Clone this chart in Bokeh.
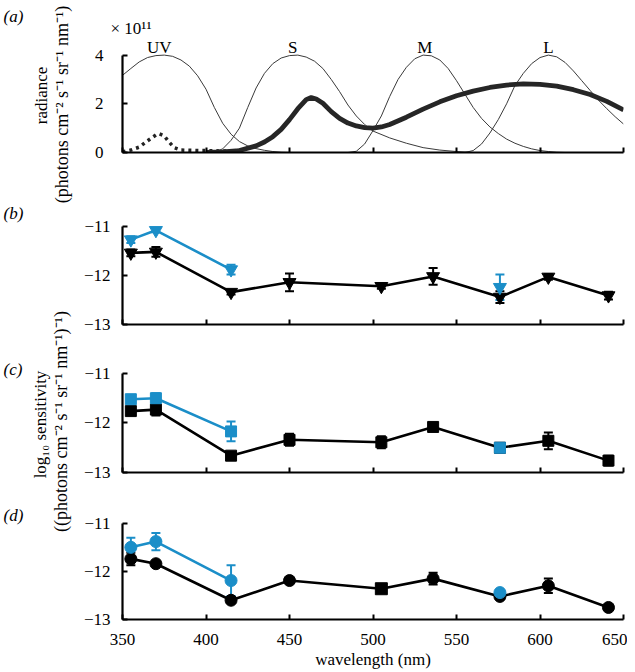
import math
from bokeh.plotting import figure
from bokeh.models import Range1d, FixedTicker, Whisker, TeeHead, ColumnDataSource
from bokeh.layouts import column, row
from bokeh.embed import file_html
from bokeh.resources import INLINE
from bokeh.core.properties import value

# ---------------- data ----------------
# panel (a): photoreceptor sensitivity curves (normalised to 4) and radiance spectra (x 1e11)
uv_wl = [350, 355, 360, 365, 370, 375, 380, 385, 390, 395, 400, 405, 410, 415, 420, 425, 430, 435, 440, 445, 450]
uv_val = [3.17, 3.45, 3.72, 3.9, 3.98, 4.0, 3.95, 3.8, 3.55, 3.15, 2.6, 1.85, 1.2, 0.75, 0.45, 0.27, 0.16, 0.09, 0.04, 0.01, 0.0]

s_wl = [400, 405, 410, 415, 420, 425, 430, 435, 440, 445, 450, 455, 460, 465, 470, 475, 480, 485, 490, 495, 500, 510, 520, 530, 540, 550, 560]
s_val = [0.0, 0.02, 0.15, 0.5, 1.0, 1.85, 2.65, 3.25, 3.65, 3.88, 3.98, 4.0, 3.92, 3.75, 3.45, 3.0, 2.5, 1.95, 1.5, 1.15, 0.88, 0.6, 0.38, 0.2, 0.1, 0.04, 0.0]

m_wl = [485, 490, 495, 500, 505, 510, 515, 520, 525, 530, 535, 540, 545, 550, 555, 560, 565, 570, 575, 580, 585, 590, 595, 600, 605, 610, 615]
m_val = [0.0, 0.05, 0.35, 0.9, 1.5, 2.3, 3.0, 3.5, 3.85, 4.0, 3.97, 3.8, 3.45, 2.95, 2.4, 1.85, 1.4, 1.05, 0.78, 0.55, 0.38, 0.25, 0.15, 0.08, 0.04, 0.01, 0.0]

l_wl = [555, 560, 565, 570, 575, 580, 585, 590, 595, 600, 605, 610, 615, 620, 625, 630, 635, 640, 645, 650]
l_val = [0.0, 0.08, 0.35, 0.8, 1.35, 2.0, 2.75, 3.25, 3.65, 3.9, 4.0, 3.93, 3.7, 3.35, 2.95, 2.55, 2.15, 1.8, 1.47, 1.17]

rad_wl = [400, 410, 420, 430, 435, 440, 445, 450, 455, 460, 463, 466, 470, 475, 480, 485, 490, 495, 500, 505, 510, 520, 530, 540, 550, 560, 570, 580, 590, 600, 610, 620, 630, 640, 650]
rad_val = [0.0, 0.02, 0.08, 0.27, 0.43, 0.65, 0.95, 1.35, 1.8, 2.17, 2.26, 2.2, 2.02, 1.68, 1.4, 1.21, 1.09, 1.02, 1.0, 1.05, 1.15, 1.45, 1.78, 2.08, 2.33, 2.52, 2.67, 2.77, 2.82, 2.8, 2.73, 2.58, 2.38, 2.1, 1.75]

uvrad_wl = [350, 355, 360, 365, 370, 372, 375, 378, 381, 385, 390, 400, 410, 420]
uvrad_val = [0.03, 0.1, 0.22, 0.48, 0.72, 0.77, 0.68, 0.42, 0.2, 0.1, 0.09, 0.08, 0.06, 0.08]

peak_names = ["UV", "S", "M", "L"]
peak_wl = [372, 452, 531, 605]
peak_val = [4, 4, 4, 4]

# panels (b)-(d): log10 sensitivity
wavelengths = [355, 370, 415, 450, 505, 536, 576, 605, 641]
blue_wl = [355, 370, 415, 576]

b_black = [-11.54, -11.52, -12.34, -12.14, -12.22, -12.02, -12.44, -12.03, -12.41]
b_black_err = [0.07, 0.1, 0.05, 0.18, 0.05, 0.17, 0.12, 0.06, 0.08]
b_blue = [-11.27, -11.08, -11.88, -12.24]
b_blue_err = [0.07, 0.04, 0.1, 0.26]

c_black = [-11.76, -11.73, -12.66, -12.34, -12.39, -12.08, -12.5, -12.36, -12.76]
c_black_err = [0.06, 0.12, 0.04, 0.12, 0.12, 0.05, 0.05, 0.17, 0.1]
c_blue = [-11.52, -11.5, -12.17, -12.5]
c_blue_err = [0.08, 0.1, 0.2, 0.04]

d_black = [-11.74, -11.84, -12.6, -12.19, -12.36, -12.15, -12.52, -12.3, -12.75]
d_black_err = [0.13, 0.04, 0.04, 0.03, 0.06, 0.12, 0.05, 0.15, 0.04]
d_blue = [-11.5, -11.38, -12.19, -12.44]
d_blue_err = [0.2, 0.18, 0.32, 0.04]
d_markers = ["circle", "circle", "circle", "circle", "square", "circle", "circle", "circle", "circle"]

x_ticks = [350, 400, 450, 500, 550, 600, 650]
a_yticks = [0, 2, 4]
s_yticks = [-13, -12, -11]
s_ytick_labels = {-13: "\u221213", -12: "\u221212", -11: "\u221211"}

# side texts (rotated axis titles and panel letters), positioned in page pixels
side_texts = ["radiance",
              "(photons cm\u207b\u00b2 s\u207b\u00b9 sr\u207b\u00b9 nm\u207b\u00b9)",
              "log\u2081\u2080 sensitivity",
              "((photons cm\u207b\u00b2 s\u207b\u00b9 sr\u207b\u00b9 nm\u207b\u00b9)\u207b\u00b9)"]
side_x = [41, 61, 40, 60]
side_y = [95, 104, 424, 421]
side_size = ["17px", "18px", "17px", "18px"]
letters = ["(a)", "(b)", "(c)", "(d)"]
letter_x = [3, 3, 3, 3]
letter_y = [16, 213, 369, 515]

# ---------------- style ----------------
FONT = "Liberation Serif"
BLUE = "#1b8ec8"
BLACK = "#000000"
FS = "17px"
SIDE_W = 75
W = 552
LEFT = 47
RIGHT = 4


def make_fig(height, top, bottom, yr, xlabels):
    p = figure(width=W, height=height, x_range=Range1d(350, 650), y_range=Range1d(*yr),
               output_backend="svg", toolbar_location=None,
               min_border_left=LEFT, min_border_right=RIGHT,
               min_border_top=top, min_border_bottom=bottom)
    p.outline_line_color = None
    p.xgrid.visible = False
    p.ygrid.visible = False
    p.background_fill_color = "white"
    for ax in p.axis:
        ax.axis_line_width = 2.2
        ax.axis_line_color = BLACK
        ax.major_tick_in = 5
        ax.major_tick_out = 0
        ax.major_tick_line_width = 2
        ax.major_tick_line_color = BLACK
        ax.minor_tick_line_color = None
        ax.major_label_text_font = FONT
        ax.major_label_text_font_size = FS
        ax.major_label_text_color = BLACK
        ax.axis_label_text_font = FONT
        ax.axis_label_text_font_size = FS
        ax.axis_label_text_font_style = "normal"
        ax.axis_label_text_color = BLACK
    p.xaxis.ticker = FixedTicker(ticks=x_ticks)
    p.xaxis.bounds = (350, 650)
    if not xlabels:
        p.xaxis.major_label_overrides = {t: "" for t in x_ticks}
    return p


# ---------- side panel with rotated titles and letters ----------
side = figure(width=SIDE_W, height=672, x_range=Range1d(0, SIDE_W), y_range=Range1d(672, 0),
              output_backend="svg", toolbar_location=None,
              min_border_left=0, min_border_right=0, min_border_top=0, min_border_bottom=0)
side.axis.visible = False
side.xgrid.visible = False
side.ygrid.visible = False
side.outline_line_color = None
side.text(x=side_x, y=side_y, text=side_texts, angle=math.pi / 2, text_font=value(FONT),
          text_font_size=side_size, text_align="center", text_baseline="middle", text_color=BLACK)
side.text(x=letter_x, y=letter_y, text=letters, text_font=value(FONT), text_font_size=FS,
          text_font_style="italic", text_align="left", text_baseline="middle", text_color=BLACK)

# ---------- panel (a) ----------
pa = make_fig(190, 40, 38, (0, 4.6), False)
pa.yaxis.ticker = FixedTicker(ticks=a_yticks)
pa.yaxis.bounds = (0, 4)
pa.yaxis.major_label_standoff = 19
pa.title.text = "\u00d7 10\u00b9\u00b9"
pa.title.text_font = FONT
pa.title.text_font_size = "17px"
pa.title.text_font_style = "normal"
pa.title.text_color = BLACK
pa.title.align = "left"
pa.title.offset = -12
pa.title.standoff = 5

for wl_, v_ in [(uv_wl, uv_val), (s_wl, s_val), (m_wl, m_val), (l_wl, l_val)]:
    pa.line(wl_, v_, line_color="#3a3a3a", line_width=1)
pa.line(uvrad_wl, uvrad_val, line_color="#222222", line_width=3.5, line_dash="3 4")
pa.line(rad_wl, rad_val, line_color="#262626", line_width=4.8)
pa.text(x=peak_wl, y=peak_val, text=peak_names, text_font=value(FONT), text_font_size=FS,
        text_align="center", text_baseline="bottom", y_offset=2, text_color=BLACK)


# ---------- panels (b)-(d) ----------
def sens_panel(height, top, bottom, black, black_err, blue, blue_err, marker, size, xlabels, markers=None):
    p = make_fig(height, top, bottom, (-13, -10.9), xlabels)
    p.yaxis.ticker = FixedTicker(ticks=s_yticks)
    p.yaxis.bounds = (-13, -11)
    p.yaxis.major_label_overrides = s_ytick_labels
    p.yaxis.major_label_standoff = 12

    ksrc = ColumnDataSource(dict(x=wavelengths, y=black,
                                 lo=[v - e for v, e in zip(black, black_err)],
                                 hi=[v + e for v, e in zip(black, black_err)],
                                 m=markers if markers else [marker] * len(wavelengths)))
    bsrc = ColumnDataSource(dict(x=blue_wl, y=blue,
                                 lo=[v - e for v, e in zip(blue, blue_err)],
                                 hi=[v + e for v, e in zip(blue, blue_err)]))
    p.line(wavelengths, black, line_color=BLACK, line_width=2.6)
    p.add_layout(Whisker(source=ksrc, base="x", upper="hi", lower="lo", line_color=BLACK, line_width=2,
                         upper_head=TeeHead(size=9, line_color=BLACK, line_width=2),
                         lower_head=TeeHead(size=9, line_color=BLACK, line_width=2)))
    p.scatter("x", "y", source=ksrc, marker="m", size=size, fill_color=BLACK, line_color=BLACK)

    p.line(blue_wl[:3], blue[:3], line_color=BLUE, line_width=2.6)
    p.add_layout(Whisker(source=bsrc, base="x", upper="hi", lower="lo", line_color=BLUE, line_width=2,
                         upper_head=TeeHead(size=9, line_color=BLUE, line_width=2),
                         lower_head=TeeHead(size=9, line_color=BLUE, line_width=2)))
    p.scatter("x", "y", source=bsrc, marker=marker, size=size, fill_color=BLUE, line_color=BLUE)
    return p


pb = sens_panel(155, 31, 21, b_black, b_black_err, b_blue, b_blue_err, "inverted_triangle", 13, False)
pc = sens_panel(150, 23, 23, c_black, c_black_err, c_blue, c_blue_err, "square", 11, False)
pd = sens_panel(177, 23, 53, d_black, d_black_err, d_blue, d_blue_err, "circle", 12, True, d_markers)

pd.xaxis.axis_label = "wavelength (nm)"
pd.xaxis.major_label_standoff = 14
pd.xaxis.axis_label_standoff = 2

layout = row(side, column(pa, pb, pc, pd, spacing=0), spacing=0)
open("out.html", "w").write(file_html(layout, INLINE))
